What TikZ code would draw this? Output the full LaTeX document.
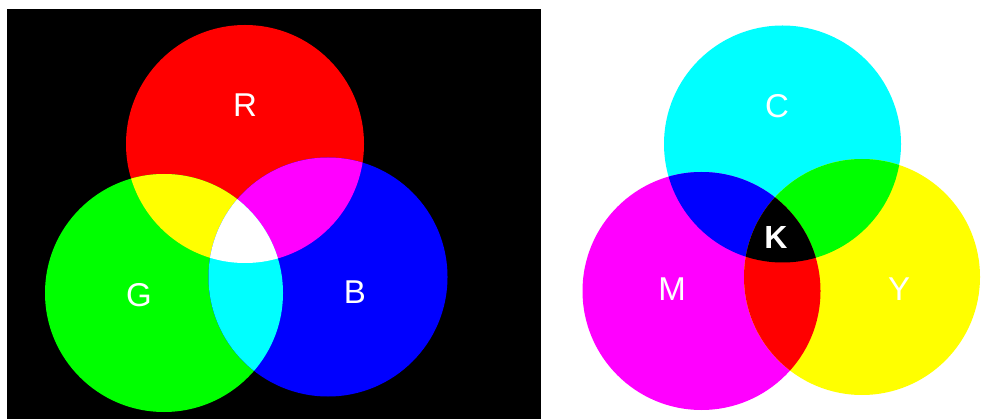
\documentclass[tikz,border=0pt]{standalone}
\usepackage{fontspec}
\setmainfont{Liberation Sans}
\definecolor{pR}{RGB}{255,0,0}
\definecolor{pG}{RGB}{0,255,0}
\definecolor{pB}{RGB}{0,0,255}
\definecolor{pC}{RGB}{0,255,255}
\definecolor{pM}{RGB}{255,0,255}
\definecolor{pY}{RGB}{255,255,0}
\definecolor{pW}{RGB}{255,255,255}
\definecolor{pK}{RGB}{0,0,0}
\begin{document}
\begin{tikzpicture}[x=1pt,y=-1pt,
  lbl/.style={text=pW,font=\fontsize{33}{33}\selectfont,inner sep=0pt},
  lblk/.style={text=pW,font=\fontsize{32}{32}\selectfont\bfseries,inner sep=0pt}]
\useasboundingbox (0,0) rectangle (982,419);
\fill[pW] (0,0) rectangle (982,419);
\fill[pK] (7,9) rectangle (541,419);
% RGB centres
\coordinate (r) at (245,144);
\coordinate (g) at (164,293);
\coordinate (b) at (328,277);
% CMY centres
\coordinate (c) at (782.5,144);
\coordinate (m) at (701.5,291);
\coordinate (y) at (862,277);
% additive
\fill[pR] (r) circle[radius=119pt];
\fill[pG] (g) circle[radius=119pt];
\fill[pB] (b) circle[radius=119.5pt];
\begin{scope}
  \clip (r) circle[radius=119pt];
  \fill[pY] (g) circle[radius=119pt];
  \fill[pM] (b) circle[radius=119.5pt];
\end{scope}
\begin{scope}
  \clip (g) circle[radius=119pt];
  \fill[pC] (b) circle[radius=119.5pt];
\end{scope}
\begin{scope}
  \clip (r) circle[radius=119pt];
  \clip (g) circle[radius=119pt];
  \fill[pW] (b) circle[radius=119.5pt];
\end{scope}
% subtractive
\fill[pC] (c) circle[radius=118.5pt];
\fill[pM] (m) circle[radius=119pt];
\fill[pY] (y) circle[radius=118pt];
\begin{scope}
  \clip (c) circle[radius=118.5pt];
  \fill[pB] (m) circle[radius=119pt];
  \fill[pG] (y) circle[radius=118pt];
\end{scope}
\begin{scope}
  \clip (m) circle[radius=119pt];
  \fill[pR] (y) circle[radius=118pt];
\end{scope}
\begin{scope}
  \clip (c) circle[radius=118.5pt];
  \clip (m) circle[radius=119pt];
  \fill[pK] (y) circle[radius=118pt];
\end{scope}
% labels
\node[lbl] (lr) at (245,105) {R};
\node[lbl] (lg) at (139,295) {G};
\node[lbl] (lb) at (355,292) {B};
\node[lbl] (lc) at (777,106) {C};
\node[lbl] (lm) at (672,289) {M};
\node[lbl] (ly) at (899,289) {Y};
\node[lblk] (lk) at (776,237) {K};
\end{tikzpicture}
\end{document}
